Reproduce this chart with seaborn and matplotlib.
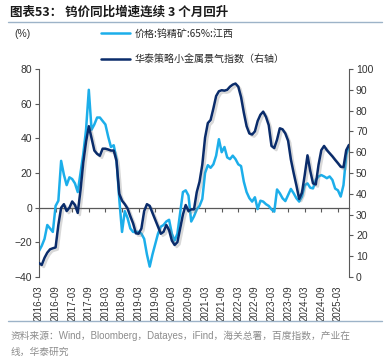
import numpy as np
import pandas as pd
import matplotlib
matplotlib.use("Agg")
import matplotlib.pyplot as plt
import seaborn as sns
from matplotlib import patheffects as pe
from matplotlib.lines import Line2D

# data (monthly, 2016-03 .. 2025-07)
months = list(pd.period_range("2016-03", "2025-07", freq="M").strftime("%Y-%m"))

tungsten_yoy = [
    -25, -22, -18, -10, -12, -14, 1, 4, 27, 19,
    13, 17.5, 16.5, 14, 9, 20, 31, 45, 68, 45,
    48, 52, 52, 50, 48, 41, 35, 36, 28, 5,
    -14, -2, -6, -12, -14, -14, -14, -15, -18, -27,
    -34, -27, -21, -15, -11, -10, -8, -7, -15, -19,
    -15, -3, 9, 10, 7, -8, -5, -1, 1, 5,
    20, 24.5, 23, 25, 30, 39.5, 32, 35, 29, 28,
    30, 28, 25, 24, 15, 9, 5.5, 3.5, 6, -0.8,
    4, 3.5, 2, 1, -1, -2.3, 10.5, 8.3, 5.4, 3.8,
    7.3, 10.8, 8.3, 5.4, 3.5, 6.4, 13, 14, 11.5, 11.1,
    16, 18, 18.8, 18, 17, 18, 16, 11, 10, 6.4,
    13, 30.4, 36,
]

metal_index = [
    6.7, 5.8, 9.2, 11.7, 13.3, 13.8, 14.2, 25, 33.3, 35,
    31.7, 33.3, 36.3, 34.6, 30.8, 41.7, 55, 65, 72.5, 66.7,
    60.8, 59.2, 58.3, 61.7, 61.7, 61.3, 60.8, 60.8, 55.8, 40,
    36.7, 35, 32.9, 29.2, 25.8, 21, 20.8, 23.3, 31.7, 35,
    34.2, 30.8, 27.5, 24.2, 20.8, 21.7, 25, 22.5, 17.5, 15.4,
    16.7, 23.3, 30, 34.6, 31.7, 32.5, 32.5, 40.8, 45.8, 54,
    67, 74, 75.5, 81, 87, 89.3, 89.8, 89.6, 90, 91.5,
    92.5, 93, 91.5, 86.5, 79, 72.5, 69, 68.5, 70, 75,
    78, 79.5, 77, 73, 63, 62, 66, 71.5, 71, 69,
    65.5, 56.5, 50, 44, 37.5, 40.5, 49, 58.5, 51, 45,
    44.5, 54, 61, 63, 61, 59.5, 58, 56.3, 54.7, 53,
    52.8, 61, 63.5,
]

label_price = "价格:钨精矿:65%:江西"
label_index = "华泰策略小金属景气指数（右轴）"

df = pd.DataFrame({
    "t": np.arange(len(months)),
    "price": tungsten_yoy,
    "index": metal_index,
})

LIGHT = "#1CAEEA"
DARK = "#0A2C6B"
AXC = "#595959"

sns.set_style("white")
plt.rcParams["font.family"] = ["Liberation Sans", "Noto Sans CJK SC", "DejaVu Sans"]

fig = plt.figure(figsize=(3.91, 3.6), dpi=100)
ax = fig.add_axes([0.0997, 0.2306, 0.7929, 0.5777])
ax2 = ax.twinx()

sns.lineplot(data=df, x="t", y="price", ax=ax, color=LIGHT, lw=1.8, legend=False)
sns.lineplot(data=df, x="t", y="index", ax=ax2, color=DARK, lw=1.8, legend=False)
ax2.lines[0].set_path_effects([
    pe.SimpleLineShadow(offset=(1.5, -1.5), shadow_color="grey", alpha=0.3),
    pe.Normal(),
])

ax.set_xlim(0, len(months) - 1)
ax.set_ylim(-40, 80)
ax.set_yticks(range(-40, 81, 20))
ax2.set_ylim(0, 100)
ax2.set_yticks(range(0, 101, 10))

ax.set_xticks(range(0, len(months), 6))
ax.set_xticklabels(months[::6], rotation=90, fontsize=7, color="#333333")
ax.tick_params(axis="x", length=0, pad=6)
ax.set_xlabel("")
ax.set_ylabel("")
ax2.set_ylabel("")

for a in (ax, ax2):
    for s in a.spines.values():
        s.set_visible(False)
ax.spines["left"].set_visible(True)
ax.spines["left"].set_color(AXC)
ax2.spines["right"].set_visible(True)
ax2.spines["right"].set_color(AXC)

ax.tick_params(axis="y", direction="out", length=3, color=AXC, labelsize=7.5,
               labelcolor="#333333", pad=2)
ax2.tick_params(axis="y", direction="out", length=3, color=AXC, labelsize=7.5,
                labelcolor="#333333", pad=2)

# zero line with date ticks
sec = ax.secondary_xaxis(1 / 3)
sec.set_xticks(range(0, len(months), 6))
sec.set_xticklabels([])
sec.spines["bottom"].set_color(AXC)
sec.spines["bottom"].set_linewidth(0.9)
sec.tick_params(axis="x", direction="out", length=3, color=AXC)

# title and rules
fig.text(0.026, 0.966, "图表53： 钨价同比增速连续 3 个月回升", fontsize=9,
         fontweight="bold", va="center", ha="left", color="#1a1a1a",
         family=["Noto Sans CJK SC", "DejaVu Sans"])
fig.add_artist(Line2D([0.02, 0.977], [0.939, 0.939], color="#9DB3C8", lw=1))
fig.add_artist(Line2D([0.02, 0.977], [0.109, 0.109], color="#9DB3C8", lw=1))

fig.text(0.036, 0.905, "(%)", fontsize=7.5, va="center", ha="left", color="#333333")

handles = [Line2D([], [], color=LIGHT, lw=1.8), Line2D([], [], color=DARK, lw=1.8)]
fig.legend(handles, [label_price, label_index], loc="upper left",
           bbox_to_anchor=(0.235, 0.945), frameon=False,
           handlelength=2.9, handletextpad=0.5, labelspacing=1.6,
           prop={"family": ["Noto Sans CJK SC", "DejaVu Sans"], "size": 7.2})

src_kw = dict(fontsize=7, color="#8C8C8C", va="center", ha="left",
              family=["Liberation Sans", "Noto Sans CJK SC"])
fig.text(0.026, 0.066, "资料来源：Wind，Bloomberg，Datayes，iFind，海关总署，百度指数，产业在", **src_kw)
fig.text(0.026, 0.022, "线，华泰研究", **src_kw)

fig.savefig("out.png", dpi=100)
